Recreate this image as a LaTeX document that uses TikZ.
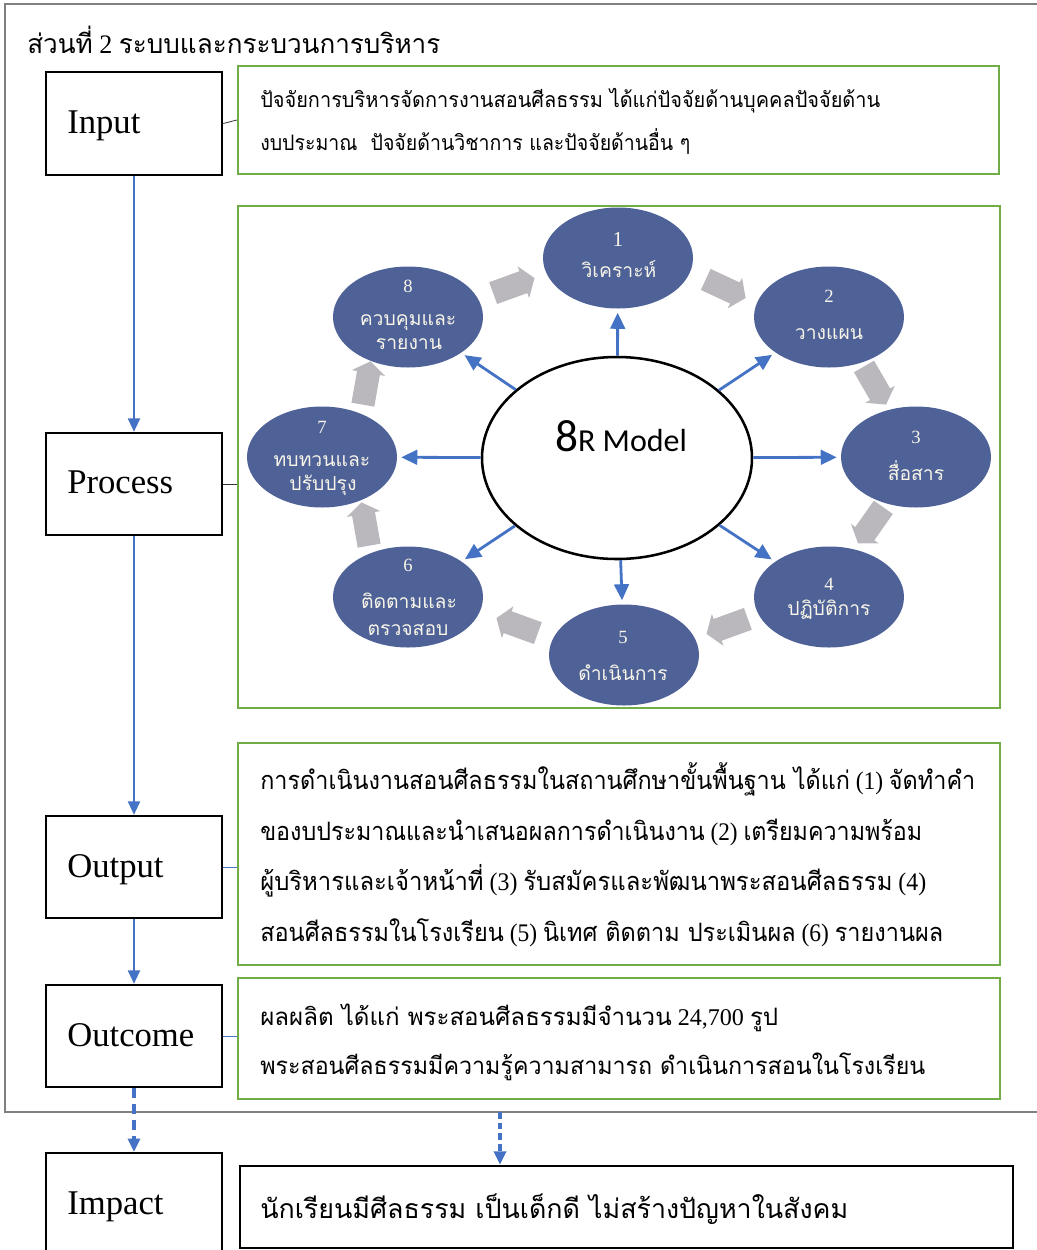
\documentclass[tikz,border=0pt]{standalone}
\usepackage{fontspec}
\usepackage{graphicx}
\setmainfont{Liberation Serif}
\newfontfamily\thaifont[Script=Thai]{Loma}
\newfontfamily\calfont{Carlito}
\usetikzlibrary{shapes.geometric,shapes.arrows,arrows.meta}
\definecolor{mygreen}{RGB}{112,173,71}
\definecolor{myblue}{RGB}{68,114,196}
\definecolor{ellblue}{RGB}{79,98,152}
\definecolor{arrgray}{RGB}{186,183,189}
\definecolor{framegray}{RGB}{128,128,128}
\definecolor{cream}{RGB}{248,245,232}
\newlength\px \setlength\px{0.75pt}
\newcommand\fitw[2]{\resizebox{#1\px}{\height}{#2}}
\newcommand\tht[1]{{\thaifont #1}}
\begin{document}
\begin{tikzpicture}[x=0.75pt,y=-0.75pt,
 lblbox/.style={draw=black, line width=1.9pt, minimum width=132pt, minimum height=77pt, inner sep=0pt},
 lbltxt/.style={anchor=base west, inner sep=0pt, font=\fontsize{26}{30}\selectfont},
 grnbox/.style={draw=mygreen, line width=1.6pt, inner sep=0pt},
 ttxt/.style={anchor=base west, inner sep=0pt},
 flow/.style={draw=myblue, line width=1.5pt, -{Triangle[width=9pt,length=10pt]}},
 spoke/.style={draw=myblue, line width=2.1pt, -{Triangle[width=11pt,length=12pt]}, shorten >=3pt},
 joint/.style={line width=0.6pt},
 ell/.style={ellipse, fill=ellblue, minimum width=112.5pt, minimum height=75.75pt, inner sep=0pt},
 numtxt/.style={anchor=base, inner sep=0pt, text=cream, font=\fontsize{14}{16}\selectfont},
 elltxt/.style={anchor=base, inner sep=0pt, text=cream, font=\thaifont\fontsize{14.5}{16}\selectfont},
 garrow/.style={single arrow, fill=arrgray, minimum height=33pt, single arrow head extend=4pt, single arrow tip angle=110, inner sep=0pt}
]
\useasboundingbox (0,0) rectangle (1037,1250);
% outer frame
\draw[framegray, line width=2.2pt] (1040,4) -- (5,4) -- (5,1112) -- (1040,1112);
% title
\node[ttxt, font=\fontsize{20}{24}\selectfont] (title) at (27,53) {\fitw{413}{\tht{ส่วนที่} 2 \tht{ระบบและกระบวนการบริหาร}}};
% label boxes
\node[lblbox] (inbox) at (134,123.5) {};
\node[lblbox, minimum height=76.5pt] (procbox) at (134,484) {};
\node[lblbox, minimum height=76.5pt] (outbox) at (134,867) {};
\node[lblbox, minimum height=76.5pt] (outcbox) at (134,1036) {};
\node[lblbox] (impbox) at (134,1204.5) {};
\node[lbltxt] (inlbl) at (67,133) {Input};
\node[lbltxt] (proclbl) at (67,493) {Process};
\node[lbltxt] (outlbl) at (67,877) {Output};
\node[lbltxt] (outclbl) at (67,1046) {Outcome};
\node[lbltxt] (implbl) at (67,1214) {Impact};
% text boxes
\node[grnbox, minimum width=570.75pt, minimum height=81pt] (intext) at (618.5,120) {};
\node[grnbox, minimum width=571.5pt, minimum height=376.5pt] (proctext) at (619,457) {};
\node[grnbox, minimum width=571.5pt, minimum height=166.5pt] (outtext) at (619,854) {};
\node[grnbox, minimum width=571.5pt, minimum height=90.75pt] (outctext) at (619,1038.5) {};
\node[draw=black, line width=1.9pt, inner sep=0pt, minimum width=579.75pt, minimum height=61.5pt] (imptext) at (626.5,1207) {};
% joints
\draw[joint, black!80] (inbox.east) -- (intext.west);
\draw[joint, black!80] (procbox.east) -- (procbox.east -| proctext.west);
\draw[joint, myblue] (outbox.east) -- (outbox.east -| outtext.west);
\draw[joint, myblue] (outcbox.east) -- (outcbox.east -| outctext.west);
% flow arrows
\draw[flow] (inbox.south) -- (procbox.north);
\draw[flow] (procbox.south) -- (outbox.north);
\draw[flow] (outbox.south) -- (outcbox.north);
\draw[flow, line width=2.4pt, dash pattern=on 7.5pt off 4.5pt] (outcbox.south) -- (impbox.north);
\coordinate (fb) at (500,1112);
\draw[flow, line width=3pt, dash pattern=on 5pt off 3pt] (fb) -- (fb |- imptext.north);
% box texts
\node[ttxt, font=\fontsize{16}{20}\selectfont] (in1) at (260,107) {\fitw{620}{\tht{ปัจจัยการบริหารจัดการงานสอนศีลธรรม ได้แก่ปัจจัยด้านบุคคลปัจจัยด้าน}}};
\node[ttxt, font=\fontsize{16}{20}\selectfont] (in2) at (260,150) {\fitw{430}{\tht{งบประมาณ~~ปัจจัยด้านวิชาการ และปัจจัยด้านอื่น ๆ}}};
\node[ttxt, font=\fontsize{19}{23}\selectfont] (out1) at (260,789) {\fitw{715}{\tht{การดำเนินงานสอนศีลธรรมในสถานศึกษาขั้นพื้นฐาน ได้แก่} (1) \tht{จัดทำคำ}}};
\node[ttxt, font=\fontsize{19}{23}\selectfont] (out2) at (260,840) {\fitw{662}{\tht{ของบประมาณและนำเสนอผลการดำเนินงาน} (2) \tht{เตรียมความพร้อม}}};
\node[ttxt, font=\fontsize{19}{23}\selectfont] (out3) at (260,890) {\fitw{666}{\tht{ผู้บริหารและเจ้าหน้าที่} (3) \tht{รับสมัครและพัฒนาพระสอนศีลธรรม} (4)}};
\node[ttxt, font=\fontsize{19}{23}\selectfont] (out4) at (260,941) {\fitw{683}{\tht{สอนศีลธรรมในโรงเรียน} (5) \tht{นิเทศ ติดตาม ประเมินผล} (6) \tht{รายงานผล}}};
\node[ttxt, font=\fontsize{18}{22}\selectfont] (oc1) at (260,1025) {\fitw{518}{\tht{ผลผลิต ได้แก่ พระสอนศีลธรรมมีจำนวน} 24,700 \tht{รูป}}};
\node[ttxt, font=\fontsize{18}{22}\selectfont] (oc2) at (260,1074) {\fitw{665}{\tht{พระสอนศีลธรรมมีความรู้ความสามารถ ดำเนินการสอนในโรงเรียน}}};
\node[ttxt, font=\fontsize{20}{24}\selectfont] (imp1) at (260,1218) {\fitw{588}{\tht{นักเรียนมีศีลธรรม เป็นเด็กดี ไม่สร้างปัญหาในสังคม}}};
% 8R model
\node[ellipse, draw=black, line width=1.9pt, minimum width=202.5pt, minimum height=151.5pt, inner sep=0pt] (c) at (617,458) {};
\node[inner sep=0pt, anchor=base] (ctxt) at (621,451) {\calfont{\fontsize{34}{36}\selectfont 8}{\fontsize{24}{26}\selectfont R Model}};
\node[ell] (e1) at (618,258) {};
\node[ell] (e2) at (829,317) {};
\node[ell] (e3) at (916,457) {};
\node[ell] (e4) at (829,597) {};
\node[ell] (e5) at (624,655) {};
\node[ell] (e6) at (408,597) {};
\node[ell] (e7) at (322,457) {};
\node[ell] (e8) at (408,317) {};
\foreach \i in {1,...,8} {\draw[spoke] (c) -- (e\i);}
\node[numtxt, font=\fontsize{16}{18}\selectfont] (n1) at (618,246) {1};
\node[elltxt] (t1) at (619,277) {วิเคราะห์};
\node[numtxt] (n2) at (829,302) {2};
\node[elltxt] (t2) at (829,339) {วางแผน};
\node[numtxt] (n3) at (916,443) {3};
\node[elltxt] (t3) at (916,480) {สื่อสาร};
\node[numtxt] (n4) at (829,590) {4};
\node[elltxt] (t4) at (829,615) {ปฏิบัติการ};
\node[numtxt] (n5) at (623,643) {5};
\node[elltxt] (t5) at (623,680) {ดำเนินการ};
\node[numtxt] (n6) at (408,571) {6};
\node[elltxt] (t6a) at (409,608) {ติดตามและ};
\node[elltxt] (t6b) at (408,635) {ตรวจสอบ};
\node[numtxt] (n7) at (322,433) {7};
\node[elltxt] (t7a) at (322,466) {ทบทวนและ};
\node[elltxt] (t7b) at (323,490) {ปรับปรุง};
\node[numtxt] (n8) at (408,292) {8};
\node[elltxt] (t8a) at (408,325) {ควบคุมและ};
\node[elltxt] (t8b) at (409,349) {รายงาน};
% gray cycle arrows
\node[garrow, rotate=20] (g81) at (510,287) {\rule{0pt}{17pt}};
\node[garrow, rotate=-25] (g12) at (722,287) {\rule{0pt}{17pt}};
\node[garrow, rotate=-60] (g23) at (873,382) {\rule{0pt}{17pt}};
\node[garrow, rotate=-125] (g34) at (873,522) {\rule{0pt}{17pt}};
\node[garrow, rotate=-160] (g45) at (731,625) {\rule{0pt}{17pt}};
\node[garrow, rotate=160] (g56) at (521,627) {\rule{0pt}{17pt}};
\node[garrow, rotate=100] (g67) at (366,528) {\rule{0pt}{17pt}};
\node[garrow, rotate=80] (g78) at (366,387) {\rule{0pt}{17pt}};
\end{tikzpicture}
\end{document}
